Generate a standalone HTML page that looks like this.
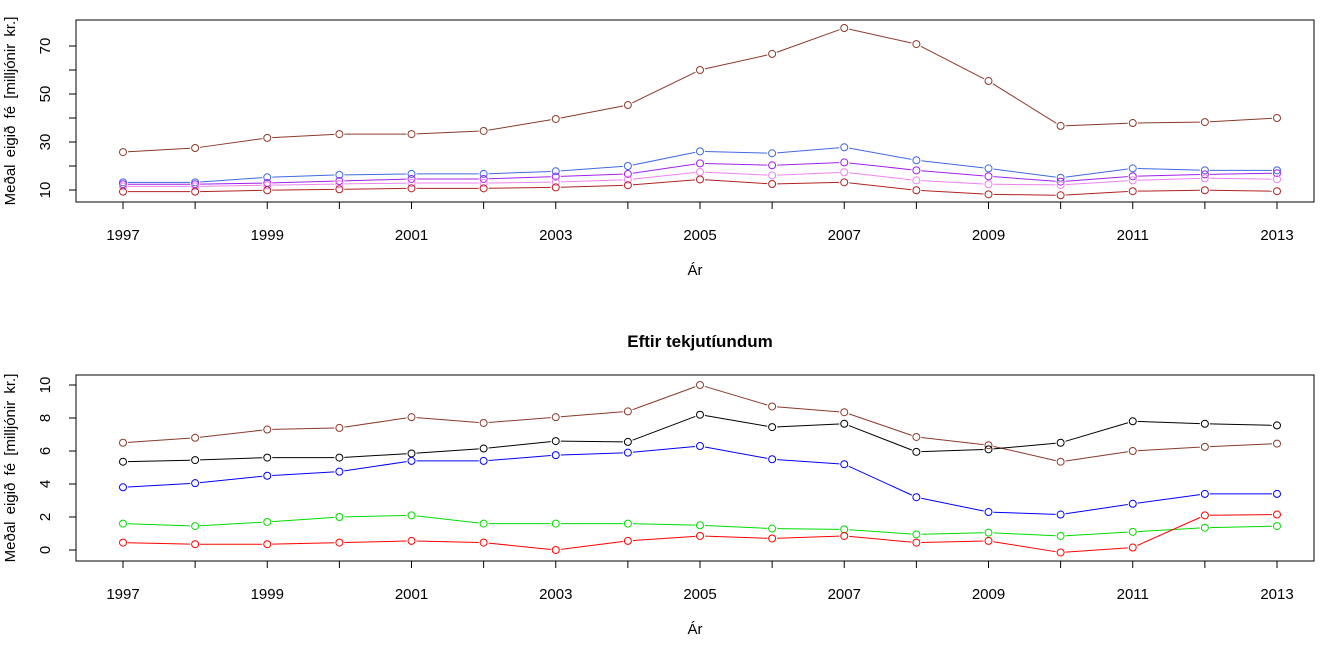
<!DOCTYPE html>
<html><head><meta charset="utf-8"><style>
body{margin:0;background:#fff}
svg text{font-family:"Liberation Sans",Arial,sans-serif;font-size:14px;fill:#000}
</style></head><body>
<svg id="c" width="1333" height="646" xmlns="http://www.w3.org/2000/svg"></svg>
<script>
const years=[1997,1998,1999,2000,2001,2002,2003,2004,2005,2006,2007,2008,2009,2010,2011,2012,2013];
const topBrown=[25.8,27.5,31.7,33.3,33.3,34.6,39.6,45.4,60,66.7,77.5,70.8,55.4,36.7,37.9,38.3,40];
const topBlue=[13.2,13.2,15.3,16.3,16.7,16.7,17.8,20,26.1,25.3,27.8,22.4,19,15.1,19,18.2,18.2];
const topPurple=[12.4,12.4,12.9,13.75,14.6,14.6,15.6,16.7,21.1,20.3,21.5,18.2,15.7,13.5,15.7,16.5,17];
const topViolet=[11.5,11.5,12,12.5,12.9,12.9,13.3,14.3,17.5,16.1,17.4,14,12.4,12.1,14,14.9,14.5];
const topRed=[9.3,9.3,9.9,10.3,10.7,10.7,11.1,12,14.4,12.5,13.2,9.9,8.2,7.8,9.5,9.9,9.5];
const botBrown=[6.5,6.8,7.3,7.4,8.05,7.7,8.05,8.4,10,8.7,8.35,6.85,6.35,5.35,6.0,6.25,6.45];
const botBlack=[5.35,5.45,5.6,5.6,5.85,6.15,6.6,6.55,8.2,7.45,7.65,5.95,6.1,6.5,7.8,7.65,7.55];
const botBlue=[3.8,4.05,4.5,4.75,5.4,5.4,5.75,5.9,6.3,5.5,5.2,3.2,2.3,2.15,2.8,3.4,3.4];
const botGreen=[1.6,1.45,1.7,2.0,2.1,1.6,1.6,1.6,1.5,1.3,1.25,0.95,1.05,0.85,1.1,1.35,1.45];
const botRed=[0.45,0.35,0.35,0.45,0.55,0.45,0.0,0.55,0.85,0.7,0.85,0.45,0.55,-0.15,0.15,2.1,2.15];
const xTicks=[1997,1999,2001,2003,2005,2007,2009,2011,2013];
const topYTicks=[10,20,30,40,50,60,70];
const topYLabels=[10,30,50,70];
const botYTicks=[0,2,4,6,8,10];

const svg=document.getElementById('c');
const NS='http://www.w3.org/2000/svg';
function el(t,a,p){const e=document.createElementNS(NS,t);for(const k in a)e.setAttribute(k,a[k]);(p||svg).appendChild(e);return e;}
const xs=y=>123+(y-1997)*72.125;

function panel(cfg){
  const g=el('g',{});
  
  
  const ys=cfg.ys;
  const box=el('rect',{x:76,y:cfg.top,width:1238,height:cfg.bot-cfg.top,fill:'none',stroke:'#000'},g);
  
  
  const xa=el('g',{},g);
  
  
  el('line',{x1:xs(1997),x2:xs(2013),y1:cfg.bot,y2:cfg.bot,stroke:'#000'},xa);
  years.forEach(y=>el('line',{x1:xs(y),x2:xs(y),y1:cfg.bot,y2:cfg.bot+7,stroke:'#000'},xa));
  xTicks.forEach(y=>{const t=el('text',{x:xs(y),y:cfg.bot+38,'text-anchor':'middle',style:'font-size:15px'},xa);t.textContent=y;});
  const xt=el('text',{x:695,y:cfg.bot+73,'text-anchor':'middle',style:'font-size:15px'},g);xt.textContent='Ár';
  
  
  const ya=el('g',{},g);
  
  
  el('line',{x1:76,x2:76,y1:ys(cfg.yt[0]),y2:ys(cfg.yt[cfg.yt.length-1]),stroke:'#000'},ya);
  cfg.yt.forEach(v=>el('line',{x1:69,x2:76,y1:ys(v),y2:ys(v),stroke:'#000'},ya));
  cfg.yl.forEach(v=>{const t=el('text',{x:0,y:0,'text-anchor':'middle',style:'font-size:15px',transform:`translate(50,${ys(v)}) rotate(-90)`},ya);t.textContent=v;});
  const yt=el('text',{'text-anchor':'middle',style:'font-size:15px;word-spacing:3px',transform:`translate(15,${(cfg.top+cfg.bot)/2}) rotate(-90)`},g);
  yt.textContent='Meðal  eigið fé  [milljónir kr.]';
  
  
  cfg.series.forEach(([vals,col,nm])=>{
    const s=el('g',{},g);
    
    
    for(let i=0;i<vals.length-1;i++){
      const x1=xs(years[i]),y1=ys(vals[i]),x2=xs(years[i+1]),y2=ys(vals[i+1]);
      const dx=x2-x1,dy=y2-y1,L=Math.hypot(dx,dy),g2=5/L;
      el('line',{x1:x1+dx*g2,y1:y1+dy*g2,x2:x2-dx*g2,y2:y2-dy*g2,stroke:col},s);
    }
    vals.forEach((v,i)=>el('circle',{cx:xs(years[i]),cy:ys(v),r:3.5,fill:'none',stroke:col},s));
  });
}
panel({name:'top-panel',top:20,bot:202,ys:v=>214-2.4*v,yt:topYTicks,yl:topYLabels,series:[
 [topBrown,'#8B3A2A','series-brown'],[topBlue,'#4169E1','series-blue'],[topPurple,'#A020F0','series-purple'],
 [topViolet,'#EE82EE','series-violet'],[topRed,'#B22222','series-darkred']]});
panel({name:'bottom-panel',top:375,bot:561,ys:v=>550-16.5*v,yt:botYTicks,yl:botYTicks,series:[
 [botBrown,'#8B3A2A','series-brown'],[botBlack,'#000000','series-black'],[botBlue,'#0000FF','series-blue'],
 [botGreen,'#00DD00','series-green'],[botRed,'#FF0000','series-red']]});
const ti=el('text',{x:700,y:347,'text-anchor':'middle',style:'font-size:17px;font-weight:bold'});
ti.textContent='Eftir tekjutíundum';


</script>
</body></html>
